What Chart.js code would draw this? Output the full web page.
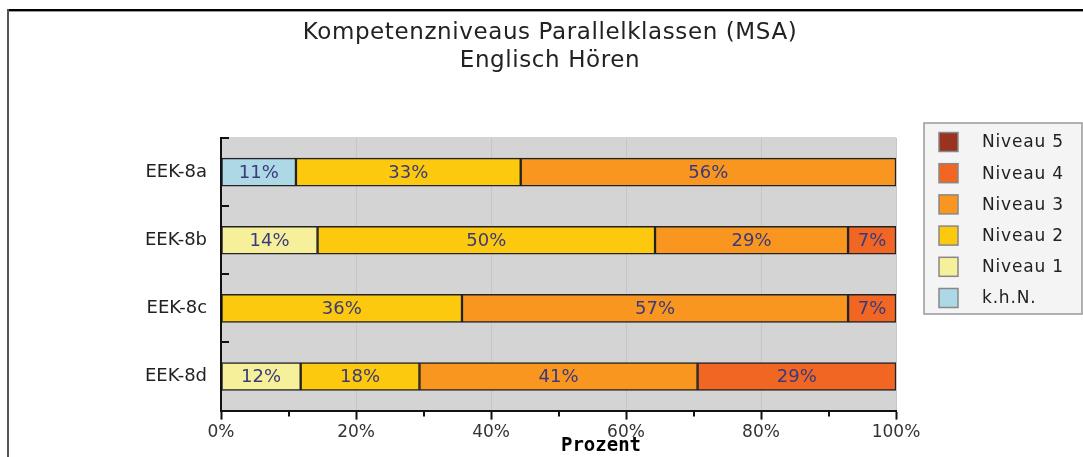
<!DOCTYPE html>
<html>
<head>
<meta charset="utf-8">
<script src="https://cdn.jsdelivr.net/npm/chart.js@4/dist/chart.umd.min.js"></script>
<style>
  html, body { margin: 0; padding: 0; background: #fff; }
  #wrap { width: 1083px; height: 457px; position: relative; }
</style>
</head>
<body>
<div id="wrap"><canvas id="ctx"></canvas></div>
<script>
const classes = ['EEK-8a', 'EEK-8b', 'EEK-8c', 'EEK-8d']
const khn     = [11.1, 0, 0, 0]
const niveau1 = [0, 14.3, 0, 11.8]
const niveau2 = [33.3, 50, 35.7, 17.6]
const niveau3 = [55.6, 28.6, 57.2, 41.2]
const niveau4 = [0, 7.1, 7.1, 29.4]
const niveau5 = [0, 0, 0, 0]
const xTicks = [0, 20, 40, 60, 80, 100]
const minorTicks = [10, 30, 50, 70, 90]

const titleLines = ['Kompetenzniveaus Parallelklassen (MSA)', 'Englisch Hören']
const axisTitle = 'Prozent'

const $chart = document.getElementById('ctx')
const FONT = '"DejaVu Sans", sans-serif'

const series = [
  {label: 'k.h.N.', data: khn, color: '#add8e6'},
  {label: 'Niveau 1', data: niveau1, color: '#f7f09a'},
  {label: 'Niveau 2', data: niveau2, color: '#fcc90f'},
  {label: 'Niveau 3', data: niveau3, color: '#f8961f'},
  {label: 'Niveau 4', data: niveau4, color: '#f06622'},
  {label: 'Niveau 5', data: niveau5, color: '#9a3220'},
]

const decor = {
  id: 'decor',
  beforeDraw: (chart) => {
    const {ctx} = chart
    const {left, right, top, bottom} = chart.chartArea
    ctx.save()
    // frame
    ctx.fillStyle = '#000'
    ctx.fillRect(7, 9, chart.width, 2)
    ctx.fillStyle = '#999'
    ctx.fillRect(7, 11, chart.width, 1)
    ctx.fillStyle = '#555'
    ctx.fillRect(7, 9, 2, chart.height)
    // plot background
    ctx.fillStyle = '#d4d4d4'
    ctx.fillRect(left, top - 1, right - left, bottom - top + 1)
    ctx.restore()
  },
  afterDatasetsDraw: (chart) => {
    const {ctx} = chart
    ctx.save()
    ctx.font = '18px ' + FONT
    ctx.fillStyle = '#3a3a7c'
    ctx.textAlign = 'center'
    ctx.textBaseline = 'middle'
    chart.data.datasets.forEach((ds, i) => {
      chart.getDatasetMeta(i).data.forEach((bar, j) => {
        const v = ds.data[j]
        if (!v) return
        const {x, y, base} = bar.getProps(['x', 'y', 'base'], true)
        ctx.fillText(Math.round(v) + '%', (x + base) / 2, y + 1)
      })
    })
    ctx.restore()
  },
  afterDraw: (chart) => {
    const {ctx} = chart
    const {left, top, bottom} = chart.chartArea
    const xs = chart.scales.x
    ctx.save()
    ctx.strokeStyle = '#111'
    ctx.lineWidth = 2
    // minor ticks on x axis
    ctx.beginPath()
    minorTicks.forEach(v => {
      const px = Math.round(xs.getPixelForValue(v))
      ctx.moveTo(px, bottom)
      ctx.lineTo(px, bottom + 6)
    })
    // inner ticks on y axis between categories
    const slot = (bottom - top) / classes.length
    for (let i = 0; i < classes.length; i++) {
      const py = Math.round(top + i * slot)
      ctx.moveTo(left, py)
      ctx.lineTo(left + 8, py)
    }
    ctx.stroke()

    // title
    ctx.fillStyle = '#222'
    ctx.textAlign = 'center'
    ctx.textBaseline = 'middle'
    ctx.font = '23px ' + FONT
    ctx.letterSpacing = '0.6px'
    ctx.fillText(titleLines[0], 550, 33)
    ctx.fillText(titleLines[1], 550, 61)

    // axis title
    ctx.letterSpacing = '0px'
    ctx.font = 'bold 19px "DejaVu Sans Mono", monospace'
    ctx.fillStyle = '#000'
    ctx.fillText(axisTitle, 601, 446)

    // legend
    const lx = 924, ly = 123, lw = 158, lh = 191
    ctx.fillStyle = '#f4f4f4'
    ctx.fillRect(lx, ly, lw, lh)
    ctx.strokeStyle = '#999'
    ctx.lineWidth = 1.5
    ctx.strokeRect(lx, ly, lw, lh)
    ctx.font = '17px ' + FONT
    ctx.textAlign = 'left'
    const items = chart.data.datasets.slice().reverse()
    items.forEach((ds, i) => {
      const cy = 142 + i * 31.2
      ctx.fillStyle = ds.backgroundColor
      ctx.fillRect(939, cy - 9.5, 19, 19)
      ctx.strokeStyle = '#888'
      ctx.lineWidth = 1.5
      ctx.strokeRect(939, cy - 9.5, 19, 19)
      ctx.fillStyle = '#222'
      ctx.letterSpacing = '0.8px'
      ctx.fillText(ds.label, 982, cy + 1)
      ctx.letterSpacing = '0px'
    })
    ctx.restore()
  }
}

const data = {
  labels: classes,
  datasets: series.map(s => ({
    label: s.label,
    data: s.data.map(v => v || null),
    backgroundColor: s.color,
    borderColor: '#222',
    borderWidth: 1.5,
    borderSkipped: false,
    barThickness: 28,
  }))
}

const options = {
  type: 'bar',
  data,
  options: {
    indexAxis: 'y',
    responsive: true,
    maintainAspectRatio: false,
    animation: false,
    layout: {
      padding: {left: 139, right: 187, top: 138, bottom: 11}
    },
    plugins: {
      legend: {display: false},
      title: {display: false},
      tooltip: {enabled: false},
    },
    scales: {
      x: {
        stacked: true,
        min: 0,
        max: 100,
        afterBuildTicks: (scale) => {
          scale.ticks = xTicks.map(v => ({value: v}))
        },
        ticks: {
          callback: v => v + '%',
          color: '#333',
          font: {family: FONT, size: 17},
          padding: 3,
          maxRotation: 0,
        },
        grid: {
          color: '#c6c6c6',
          lineWidth: 1,
          tickColor: '#111',
          tickLength: 9,
          tickWidth: 2,
        },
        border: {display: true, color: '#111', width: 2, z: 1},
      },
      y: {
        stacked: true,
        ticks: {
          color: '#222',
          font: {family: FONT, size: 18},
          padding: 6,
        },
        grid: {display: false},
        border: {display: true, color: '#111', width: 2, z: 1},
      }
    }
  },
  plugins: [decor]
}

const chart = new Chart($chart, options)
</script>
</body>
</html>
